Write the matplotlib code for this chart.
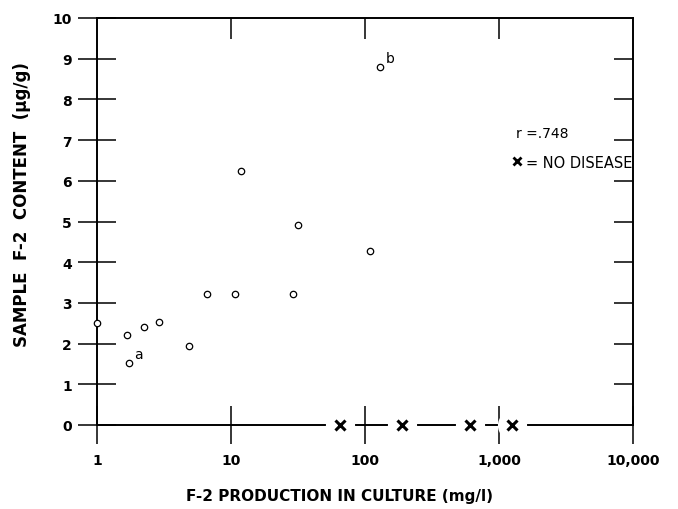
import matplotlib
matplotlib.use('Agg')
import matplotlib.pyplot as plt
from matplotlib.lines import Line2D
from matplotlib.ticker import NullLocator

# Số liệu
san_xuat_f2 = [1.0, 1.67, 2.24, 2.89, 1.72, 4.83, 6.65, 10.8, 28.9, 11.8, 31.8, 129, 109]
ham_luong_f2 = [2.5, 2.22, 2.42, 2.54, 1.52, 1.95, 3.23, 3.23, 3.23, 6.24, 4.91, 8.79, 4.27]

# Các mẫu không bị bệnh (nằm trên trục hoành)
khong_benh_x = [65, 189, 604, 1250]
khong_benh_y = [0, 0, 0, 0]

# Nhãn chữ cho hai điểm đặc biệt
nhan_chu = ['a', 'b']
nhan_x = [1.72, 129]
nhan_y = [1.52, 8.79]

x_ticks = [1, 10, 100, 1000, 10000]
x_labels = ['1', '10', '100', '1,000', '10,000']
y_ticks = [0, 1, 2, 3, 4, 5, 6, 7, 8, 9, 10]
y_labels = ['0', '1', '2', '3', '4', '5', '6', '7', '8', '9', '10']

plt.rcParams['font.family'] = ['DejaVu Sans']

fig = plt.figure(figsize=(6.78, 5.10), dpi=100)
ax = fig.add_axes([97 / 678, 84 / 510, 536 / 678, 407 / 510])

ax.set_xscale('log')
ax.set_xlim(1, 10000)
ax.set_ylim(0, 10)

for s in ax.spines.values():
    s.set_linewidth(1.4)

# Trục hoành: vạch cắt ngang trục
ax.set_xticks(x_ticks, x_labels)
ax.xaxis.set_minor_locator(NullLocator())
ax.tick_params(axis='x', direction='inout', length=28, width=1.1,
               labelsize=10, pad=6, top=False)
for t in ax.xaxis.get_major_ticks():
    t.label1.set_fontweight('bold')
ax.xaxis.get_major_ticks()[0].tick1line.set_visible(False)
ax.xaxis.get_major_ticks()[-1].tick1line.set_visible(False)

# Trục tung bên trái
ax.set_yticks(y_ticks, y_labels)
ax.tick_params(axis='y', direction='inout', length=28, width=1.1,
               labelsize=10, pad=4, right=False)
for t in ax.yaxis.get_major_ticks():
    t.label1.set_fontweight('bold')
ax.yaxis.get_major_ticks()[0].tick1line.set_visible(False)
ax.yaxis.get_major_ticks()[-1].tick1line.set_visible(False)

# Vạch bên phải và phía trên (chỉ hướng vào trong)
ax_phai = ax.twinx()
ax_phai.set_ylim(0, 10)
ax_phai.set_yticks(y_ticks[1:-1])
ax_phai.tick_params(axis='y', direction='in', length=14, width=1.1, labelright=False)

ax_tren = ax.twiny()
ax_tren.set_xscale('log')
ax_tren.set_xlim(1, 10000)
ax_tren.set_xticks(x_ticks[1:-1])
ax_tren.xaxis.set_minor_locator(NullLocator())
ax_tren.tick_params(axis='x', direction='in', length=15, width=1.1, labeltop=False)
for a in (ax_phai, ax_tren):
    for s in a.spines.values():
        s.set_visible(False)

# Các điểm số liệu (vòng tròn rỗng)
ax.plot(san_xuat_f2, ham_luong_f2, ls='none', marker='o', ms=4.6,
        mfc='white', mec='black', mew=0.9, clip_on=False, zorder=5)

# Dấu x: nền trắng để ngắt trục hoành, rồi vẽ dấu x
ax.plot(khong_benh_x, khong_benh_y, ls='none', marker='o', ms=20,
        mfc='white', mec='white', clip_on=False, zorder=4)
ax.plot(khong_benh_x, khong_benh_y, ls='none', marker='x', ms=7,
        mew=2.2, color='black', clip_on=False, zorder=5)

for chu, xx, yy in zip(nhan_chu, nhan_x, nhan_y):
    ax.annotate(chu, (xx, yy), xytext=(4, 1.5), textcoords='offset points',
                fontsize=10, va='bottom', ha='left')

ax.text(0.782, 0.717, 'r =.748', transform=ax.transAxes, va='center',
        ha='left', fontsize=10)
ax.legend(handles=[Line2D([], [], ls='none', marker='x', ms=6, mew=2, color='black')],
          labels=['= NO DISEASE'], loc='center left', bbox_to_anchor=(0.776, 0.646),
          frameon=False, handlelength=0.6, handletextpad=0.3, borderpad=0,
          borderaxespad=0, fontsize=10.5)

ax.set_xlabel('F-2 PRODUCTION IN CULTURE (mg/l)', fontsize=11, fontweight='bold')
ax.xaxis.set_label_coords(0.453, -0.155)
ax.set_ylabel('SAMPLE  F-2  CONTENT  (\u00b5g/g)', fontsize=12, fontweight='bold')
ax.yaxis.set_label_coords(-0.123, 0.543)

fig.savefig('out.png', dpi=100)
